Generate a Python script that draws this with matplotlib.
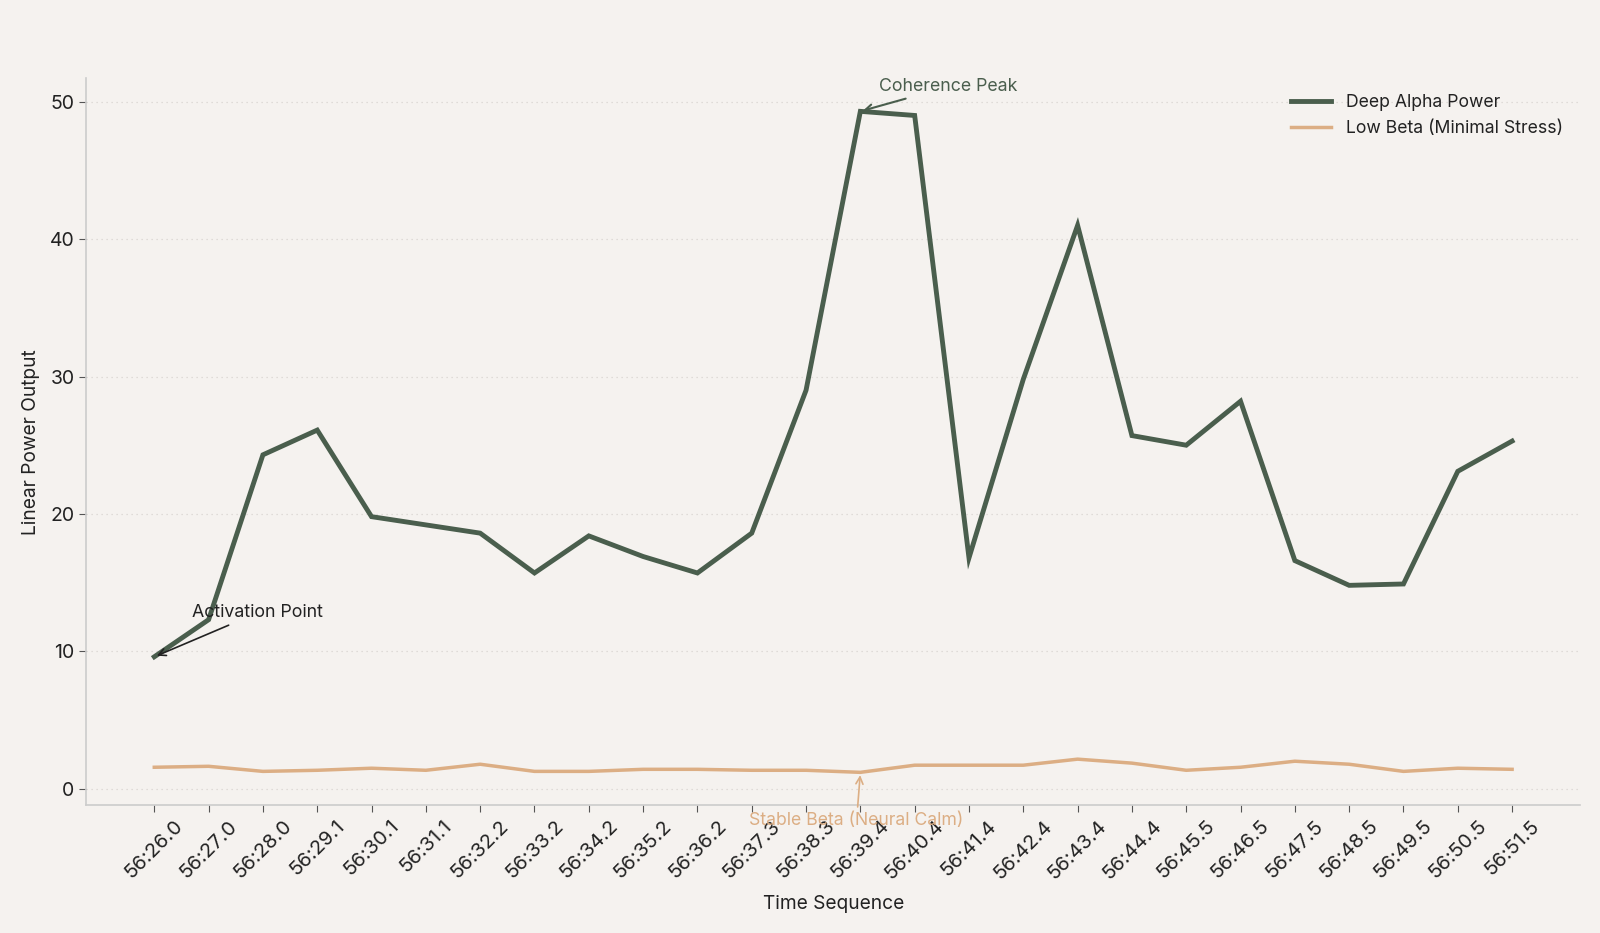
import matplotlib
matplotlib.use("Agg")
import matplotlib.pyplot as plt

plt.rcParams['font.family'] = ['Inter', 'DejaVu Sans']

time_labels = ["56:26.0", "56:27.0", "56:28.0", "56:29.1", "56:30.1", "56:31.1", "56:32.2",
               "56:33.2", "56:34.2", "56:35.2", "56:36.2", "56:37.3", "56:38.3", "56:39.4",
               "56:40.4", "56:41.4", "56:42.4", "56:43.4", "56:44.4", "56:45.5", "56:46.5",
               "56:47.5", "56:48.5", "56:49.5", "56:50.5", "56:51.5"]
alpha_power = [9.6, 12.3, 24.3, 26.1, 19.8, 19.2, 18.6, 15.7, 18.4, 16.9, 15.7, 18.6, 29.0,
               49.3, 49.0, 16.8, 29.8, 41.0, 25.7, 25.0, 28.2, 16.6, 14.8, 14.9, 23.1, 25.3]
beta_power = [1.56, 1.63, 1.26, 1.34, 1.49, 1.34, 1.78, 1.26, 1.26, 1.41, 1.41, 1.34, 1.34,
              1.19, 1.71, 1.71, 1.71, 2.15, 1.86, 1.34, 1.56, 2.0, 1.78, 1.26, 1.49, 1.41]

bg = "#f5f2ef"
green = "#4a5e4d"
tan = "#dcae84"

fig = plt.figure(figsize=(16, 9.33), dpi=100, facecolor=bg)
ax = fig.add_axes([0.054, 0.137, 0.9335, 0.779], facecolor=bg)

x = list(range(len(time_labels)))
ax.plot(x, alpha_power, color=green, lw=3.5, label="Deep Alpha Power", solid_joinstyle='miter')
ax.plot(x, beta_power, color=tan, lw=2.5, label="Low Beta (Minimal Stress)")

ax.set_ylim(-1.2, 51.7)
ax.set_xticks(x)
ax.set_xticklabels(time_labels, rotation=45, fontsize=14.5, color="#222222")
ax.set_yticks([0, 10, 20, 30, 40, 50])
ax.tick_params(axis='y', labelsize=14, colors="#222222")
ax.tick_params(axis='both', color="#555555", length=5)
ax.grid(axis='y', linestyle=(0, (1, 3)), color="#d8d4d0", lw=0.9)
ax.set_axisbelow(True)
for s in ['top', 'right']:
    ax.spines[s].set_visible(False)
for s in ['left', 'bottom']:
    ax.spines[s].set_color("#cccccc")
    ax.spines[s].set_linewidth(1.2)

ax.set_xlabel("Time Sequence", fontsize=13.8, color="#222222", labelpad=9)
ax.set_ylabel("Linear Power Output", fontsize=13.8, color="#222222", labelpad=7)

ax.annotate("Activation Point", xy=(0, alpha_power[0]), xytext=(0.7, 12.8),
            fontsize=12.8, color="#222222", va='center', ha='left',
            arrowprops=dict(arrowstyle='->', color="#222222", lw=1.2))
ax.annotate("Coherence Peak", xy=(13, alpha_power[13]), xytext=(13.35, 51.1),
            fontsize=12.8, color=green, va='center', ha='left',
            arrowprops=dict(arrowstyle='->', color=green, lw=1.5))
ax.annotate("Stable Beta (Neural Calm)", xy=(13, beta_power[13]), xytext=(12.93, -2.35),
            fontsize=12.7, color=tan, va='center', ha='center', annotation_clip=False,
            arrowprops=dict(arrowstyle='->', color=tan, lw=1.2))

leg = ax.legend(loc='upper right', frameon=False, fontsize=12.7, handlelength=2.3,
                labelspacing=0.5, bbox_to_anchor=(0.999, 1.0))
for t in leg.get_texts():
    t.set_color("#222222")

fig.savefig("out.png", dpi=100, facecolor=bg)
